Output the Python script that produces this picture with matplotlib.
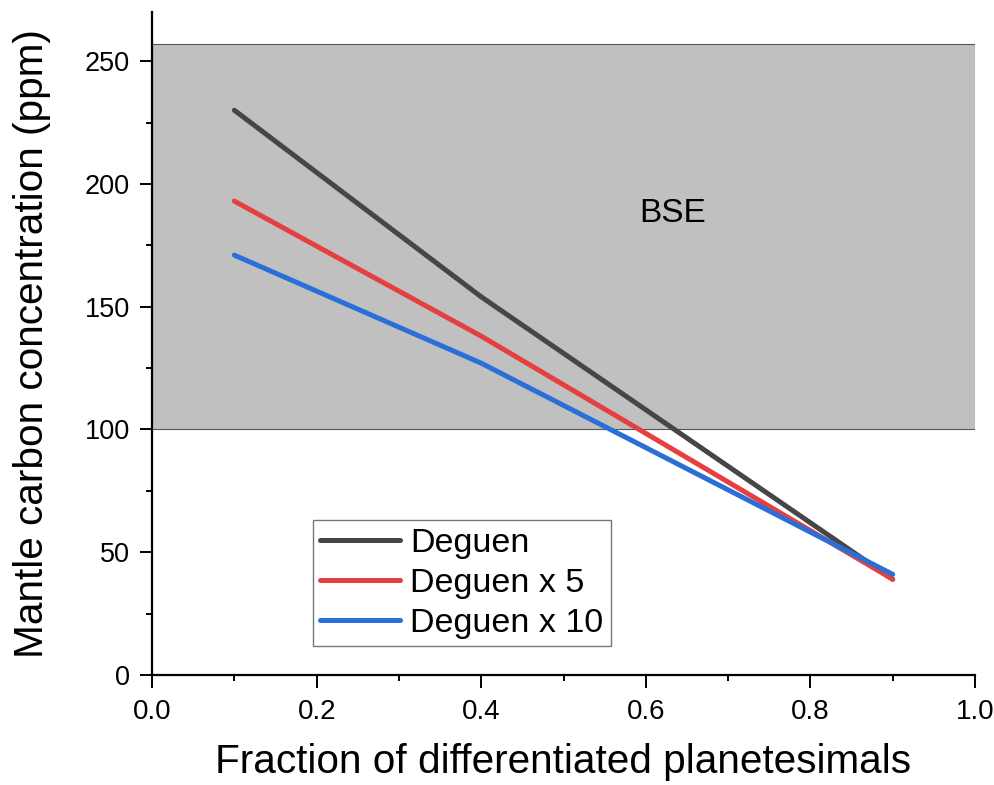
import matplotlib
matplotlib.use("Agg")
import matplotlib.pyplot as plt
from matplotlib.patches import Rectangle
from matplotlib.ticker import MultipleLocator

# model results: mantle carbon vs fraction of differentiated planetesimals
fraction = [0.1, 0.4, 0.9]
deguen = [230, 154, 39]
deguen_x5 = [193, 138, 39]
deguen_x10 = [171, 127, 41]

# bulk silicate Earth range (ppm)
bse_low, bse_high = 100, 257

plt.rcParams["font.family"] = ["Liberation Sans", "DejaVu Sans"]

fig = plt.figure(figsize=(9.95, 7.85), dpi=100)
ax = fig.add_axes([0.1528, 0.1401, 0.8271, 0.8446])

ax.add_patch(Rectangle((0, bse_low), 1.0, bse_high - bse_low,
                       facecolor="#c0c0c0", edgecolor="#555555", linewidth=0.8, zorder=1))
ax.text(0.633, 188, "BSE", fontsize=24, ha="center", va="center", zorder=3)

ax.plot(fraction, deguen, color="#464646", lw=3.6, solid_capstyle="round", label="Deguen", zorder=4)
ax.plot(fraction, deguen_x5, color="#e5403f", lw=3.6, solid_capstyle="round", label="Deguen x 5", zorder=4)
ax.plot(fraction, deguen_x10, color="#2a6fd8", lw=3.6, solid_capstyle="round", label="Deguen x 10", zorder=4)

ax.set_xlim(0, 1.0)
ax.set_ylim(0, 270)
ax.xaxis.set_major_locator(MultipleLocator(0.2))
ax.xaxis.set_minor_locator(MultipleLocator(0.1))
ax.yaxis.set_major_locator(MultipleLocator(50))
ax.yaxis.set_minor_locator(MultipleLocator(25))
ax.set_xticks([0, 0.2, 0.4, 0.6, 0.8, 1.0])
ax.set_xticklabels(["0.0", "0.2", "0.4", "0.6", "0.8", "1.0"])

for side in ("top", "right"):
    ax.spines[side].set_visible(False)
for side in ("left", "bottom"):
    ax.spines[side].set_linewidth(1.6)

ax.tick_params(which="major", direction="out", length=9, width=1.4, labelsize=19.5)
ax.tick_params(which="minor", direction="out", length=4.5, width=1.4)
ax.tick_params(axis="y", which="major", pad=7)
ax.tick_params(axis="x", which="major", pad=8, labelsize=20)

ax.set_xlabel("Fraction of differentiated planetesimals", fontsize=29.2, labelpad=13)
ax.set_ylabel("Mantle carbon concentration (ppm)", fontsize=29.2, labelpad=24)

leg = ax.legend(loc="lower left", bbox_to_anchor=(0.1956, 0.0437), borderaxespad=0,
                fontsize=24.5, frameon=True, fancybox=False, edgecolor="#555555",
                handlelength=2.35, handletextpad=0.28, labelspacing=0.26, borderpad=0.22)
leg.get_frame().set_linewidth(1.0)

fig.savefig("out.png", dpi=100)
